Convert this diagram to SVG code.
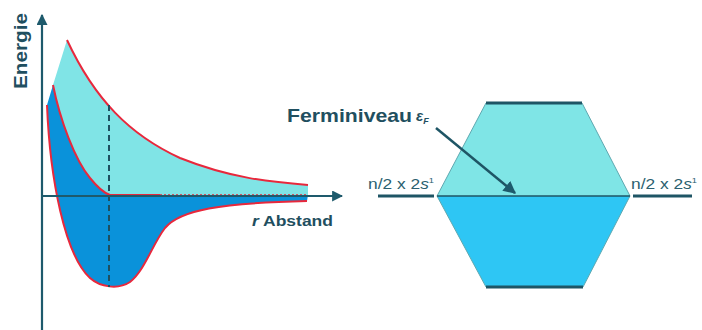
<svg xmlns="http://www.w3.org/2000/svg" width="702" height="330" viewBox="0 0 702 330">
<defs>
<style>
.red{fill:none;stroke:#e8283c;stroke-width:2}
.ax{stroke:#1e5a6c;stroke-width:2.2;fill:none}
.lbl{font-family:"Liberation Sans",Arial,sans-serif;fill:#2b5f70}
.bold{font-weight:bold;fill:#1f4f60}
.bar{stroke:#1e5565;stroke-width:3}
</style>
<marker id="ah" viewBox="0 0 10 10" refX="9" refY="5" markerWidth="5" markerHeight="5" orient="auto" markerUnits="strokeWidth"><path d="M0,0 L10,5 L0,10 Z" fill="#1e5a6c"/></marker>
</defs>
<rect width="702" height="330" fill="#fff"/>
<g id="potential">
<path d="M53,85 L67,40 C95,100 130,135 180,158 C230,178 270,182 308,185 L308,196 L110,196 C104,193 98,188 90,178 C75,160 60,120 53,85 Z" fill="#80e4e6"/>
<path d="M47,105 L53,85 C60,120 75,160 90,178 C98,188 104,193 110,195 L308,195 L307,201 C220,203 180,210 165,228 C152,245 145,270 130,282 C118,290 100,287 90,278 C65,255 50,180 47,105 Z" fill="#0a92da"/>
<path class="red" d="M67,40 C95,100 130,135 180,158 C230,178 270,182 308,185"/>
<path class="red" d="M53,85 C60,120 75,160 90,178 C98,188 104,193 110,195 L160,195"/>
<path d="M160,195 L308,195" fill="none" stroke="#e8283c" stroke-width="1.5" stroke-dasharray="2 2"/>
<path class="red" d="M47,105 C50,180 65,255 90,278 C100,287 118,290 130,282 C145,270 152,245 165,228 C180,210 220,203 307,201"/>
<line x1="109" y1="105" x2="109" y2="287" stroke="#1e4f60" stroke-width="2" stroke-dasharray="6 4"/>
</g>
<g id="axes">
<line class="ax" x1="42" y1="330" x2="42" y2="15" marker-end="url(#ah)"/>
<line class="ax" x1="42" y1="196" x2="342" y2="196" marker-end="url(#ah)"/>
</g>
<text class="lbl bold" font-size="19" transform="translate(27,51) rotate(-90)" text-anchor="middle" textLength="76" lengthAdjust="spacingAndGlyphs">Energie</text>
<text class="lbl bold" font-size="15" x="252" y="226" textLength="81" lengthAdjust="spacingAndGlyphs"><tspan font-style="italic">r</tspan> Abstand</text>
<g id="band">
<path d="M486,103 L582,103 L630,196 L437,196 Z" fill="#7fe5e6"/>
<path d="M437,196 L630,196 L583,287 L486,287 Z" fill="#2ec6f4"/>
<path d="M486,103 L437,196 L486,287 M582,103 L630,196 L583,287" fill="none" stroke="#5fa8b0" stroke-width="1"/>
<line x1="437" y1="196" x2="630" y2="196" stroke="#1e5565" stroke-width="1.5"/>
<line class="bar" x1="486" y1="103" x2="582" y2="103"/>
<line class="bar" x1="486" y1="287" x2="583" y2="287"/>
<line class="bar" x1="378" y1="196" x2="434" y2="196" stroke-width="2.5"/>
<line class="bar" x1="633" y1="196" x2="692" y2="196" stroke-width="2.5"/>
</g>
<g id="labels">
<text class="lbl" font-size="15" x="368" y="189" textLength="66" lengthAdjust="spacingAndGlyphs">n/2 x 2<tspan font-style="italic">s</tspan><tspan font-size="8" dy="-6">1</tspan></text>
<text class="lbl" font-size="15" x="631" y="189" textLength="66" lengthAdjust="spacingAndGlyphs">n/2 x 2<tspan font-style="italic">s</tspan><tspan font-size="8" dy="-6">1</tspan></text>
<text class="lbl bold" font-size="19" x="287" y="122" textLength="125" lengthAdjust="spacingAndGlyphs">Ferminiveau</text>
<text class="lbl bold" font-size="15" x="416" y="121" font-style="italic" font-family="'DejaVu Serif',serif" font-weight="normal">ε<tspan font-size="9" dy="3" font-weight="bold" font-family="'Liberation Sans',sans-serif">F</tspan></text>
</g>
<g id="connectors">
<line x1="436" y1="128" x2="515" y2="193" stroke="#1e5565" stroke-width="2.5" marker-end="url(#ah)"/>
</g>
</svg>
